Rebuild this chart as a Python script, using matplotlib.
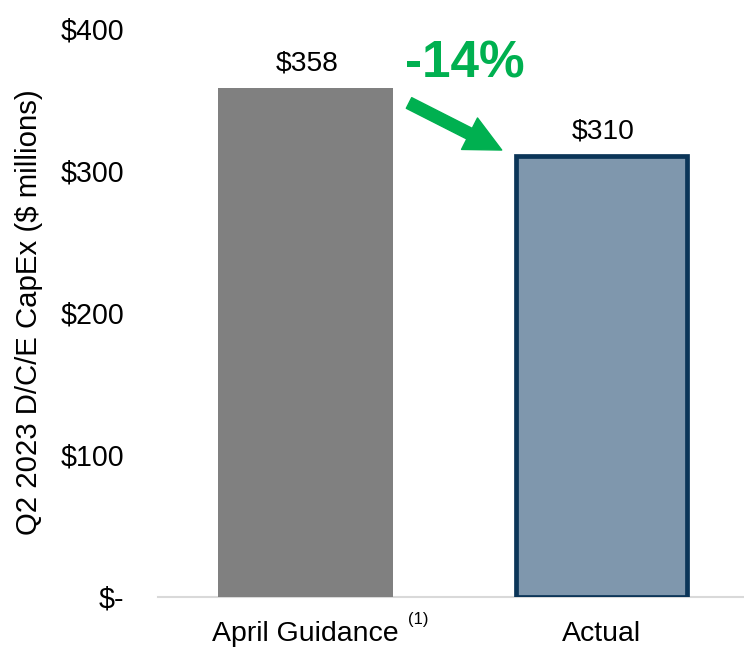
import matplotlib
matplotlib.use("Agg")
import matplotlib.pyplot as plt

categories = ["April Guidance", "Actual"]
values = [358, 310]
value_labels = ["$358", "$310"]
ytick_vals = [0, 100, 200, 300, 400]
ytick_labels = ["$-", "$100", "$200", "$300", "$400"]
change_label = "-14%"
footnote = "(1)"

plt.rcParams['font.family'] = ['Liberation Sans', 'DejaVu Sans']

fig = plt.figure(figsize=(7.44, 6.47), dpi=100)
ax = fig.add_axes([158/744, 50/647, 1 - 158/744, (597-28)/647])

x = [0, 1]
ax.bar(x[0], values[0], width=0.59, color="#808080", edgecolor="none", zorder=3)
ax.bar(x[1], values[1], width=0.575, color="#7F97AD", edgecolor="#0B3558", linewidth=3.4, zorder=3)

for xi, v, lab in zip(x, values, value_labels):
    ax.text(xi + 0.005, v + 12, lab, ha="center", va="baseline", fontsize=20.3, color="black")

ax.set_xlim(-0.498, 1.481)
ax.set_ylim(0, 400)
ax.set_yticks(ytick_vals)
ax.set_yticklabels(ytick_labels, fontsize=20.6)
ax.set_xticks(x)
ax.set_xticklabels(categories, fontsize=20.5)
ax.tick_params(axis="y", length=0, pad=24.5)
ax.tick_params(axis="x", length=0, pad=17)
for s in ["top", "right", "left"]:
    ax.spines[s].set_visible(False)
ax.spines["bottom"].set_color("#D9D9D9")
ax.spines["bottom"].set_linewidth(1.5)

# superscript footnote marker after first category label
fig.canvas.draw()
lab0 = ax.get_xticklabels()[0]
ax.annotate(footnote, xy=(1, 1), xycoords=lab0, xytext=(6.5, 6.5), textcoords="offset points",
            ha="left", va="top", fontsize=12, color="black")

ax.set_ylabel("Q2 2023 D/C/E CapEx ($ millions)", fontsize=21.2)
ax.yaxis.set_label_coords(-0.197, 0.5)

ax.text(0.539, 365.5, change_label, ha="center", va="baseline", fontsize=37,
        fontweight="bold", color="#00B050")
ax.annotate("", xy=(0.6628, 314.2), xytext=(0.3497, 347.3),
            arrowprops=dict(arrowstyle="simple,head_length=1.3,head_width=1.27,tail_width=0.43",
                            color="#00B050", mutation_scale=20, shrinkA=0, shrinkB=0))

fig.savefig("out.png", dpi=100)
